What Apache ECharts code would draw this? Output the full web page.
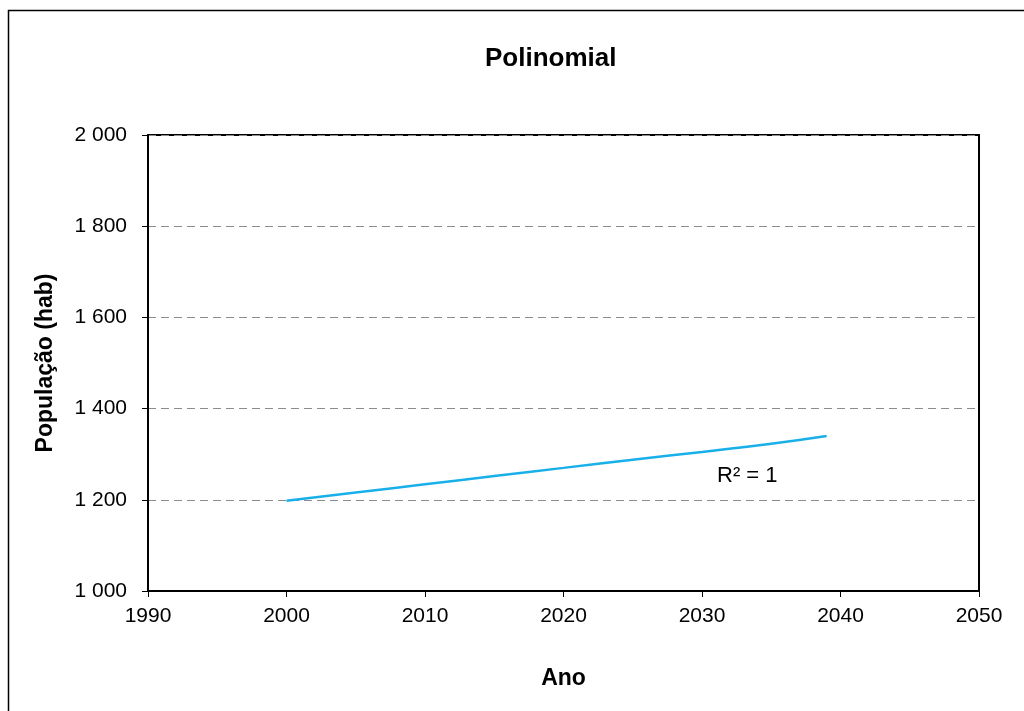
<!DOCTYPE html>
<html>
<head>
<meta charset="utf-8">
<script src="https://cdn.jsdelivr.net/npm/echarts@6/dist/echarts.min.js"></script>
<style>
html,body{margin:0;padding:0;background:#fff;}
#c{width:1024px;height:711px;}
</style>
</head>
<body>
<div id="c"></div>
<script>
const years = [2000, 2005, 2010, 2015, 2020, 2025, 2030, 2035, 2039];
const population = [1198, 1216, 1234, 1252, 1270, 1288, 1305, 1323, 1340];
const yTicks = [1000, 1200, 1400, 1600, 1800, 2000];
const xTicks = [1990, 2000, 2010, 2020, 2030, 2040, 2050];
const titleText = 'Polinomial';
const xName = 'Ano';
const yName = 'População (hab)';
const r2Label = 'R² = 1';

const fmt = v => {
  const s = String(Math.round(v));
  return s.replace(/\B(?=(\d{3})+(?!\d))/g, ' ');
};

const chart = echarts.init(document.getElementById('c'));
const F = 'Liberation Sans, Arial, sans-serif';
chart.setOption({
  animation: false,
  backgroundColor: '#fff',
  title: {
    text: titleText,
    left: 480, top: 41,
    textStyle: {fontFamily: F, fontSize: 26, fontWeight: 'bold', color: '#000'}
  },
  grid: {left: 148, top: 135, right: 45, bottom: 120, show: true, borderColor: '#000', borderWidth: 2, backgroundColor: 'transparent'},
  xAxis: {
    type: 'value', min: xTicks[0], max: xTicks[xTicks.length - 1], interval: 10,
    name: xName, nameLocation: 'middle', nameGap: 76,
    nameTextStyle: {fontFamily: F, fontSize: 23, fontWeight: 'bold', color: '#000'},
    axisLine: {show: true, lineStyle: {color: '#000', width: 2}},
    axisTick: {show: true, inside: false, length: 6, lineStyle: {color: '#000'}},
    axisLabel: {fontFamily: F, fontSize: 21, color: '#000', margin: 15, formatter: v => String(v)},
    splitLine: {show: false}
  },
  yAxis: {
    type: 'value', min: yTicks[0], max: yTicks[yTicks.length - 1], interval: 200,
    name: yName, nameLocation: 'middle', nameGap: 91, nameRotate: 90,
    nameTextStyle: {fontFamily: F, fontSize: 23, fontWeight: 'bold', color: '#000'},
    axisLine: {show: true, lineStyle: {color: '#000', width: 2}},
    axisTick: {show: true, inside: false, length: 6, lineStyle: {color: '#000'}},
    axisLabel: {fontFamily: F, fontSize: 21, color: '#000', margin: 21, formatter: fmt},
    splitLine: {show: true, lineStyle: {color: '#8c8c8c', type: [8, 5], width: 1}}
  },
  series: [{
    type: 'line',
    data: years.map((y, i) => [y, population[i]]),
    showSymbol: false,
    smooth: true,
    lineStyle: {color: '#19b0ea', width: 2.5},
    z: 5
  }],
  graphic: [
    {type: 'rect', shape: {x: 8.5, y: 10.5, width: 1030, height: 720}, style: {fill: 'none', stroke: '#000', lineWidth: 1.5}, z: -1},
    {type: 'text', left: 717, top: 465, style: {text: r2Label, font: '22px ' + F, fill: '#000'}}
  ]
});
</script>
</body>
</html>
